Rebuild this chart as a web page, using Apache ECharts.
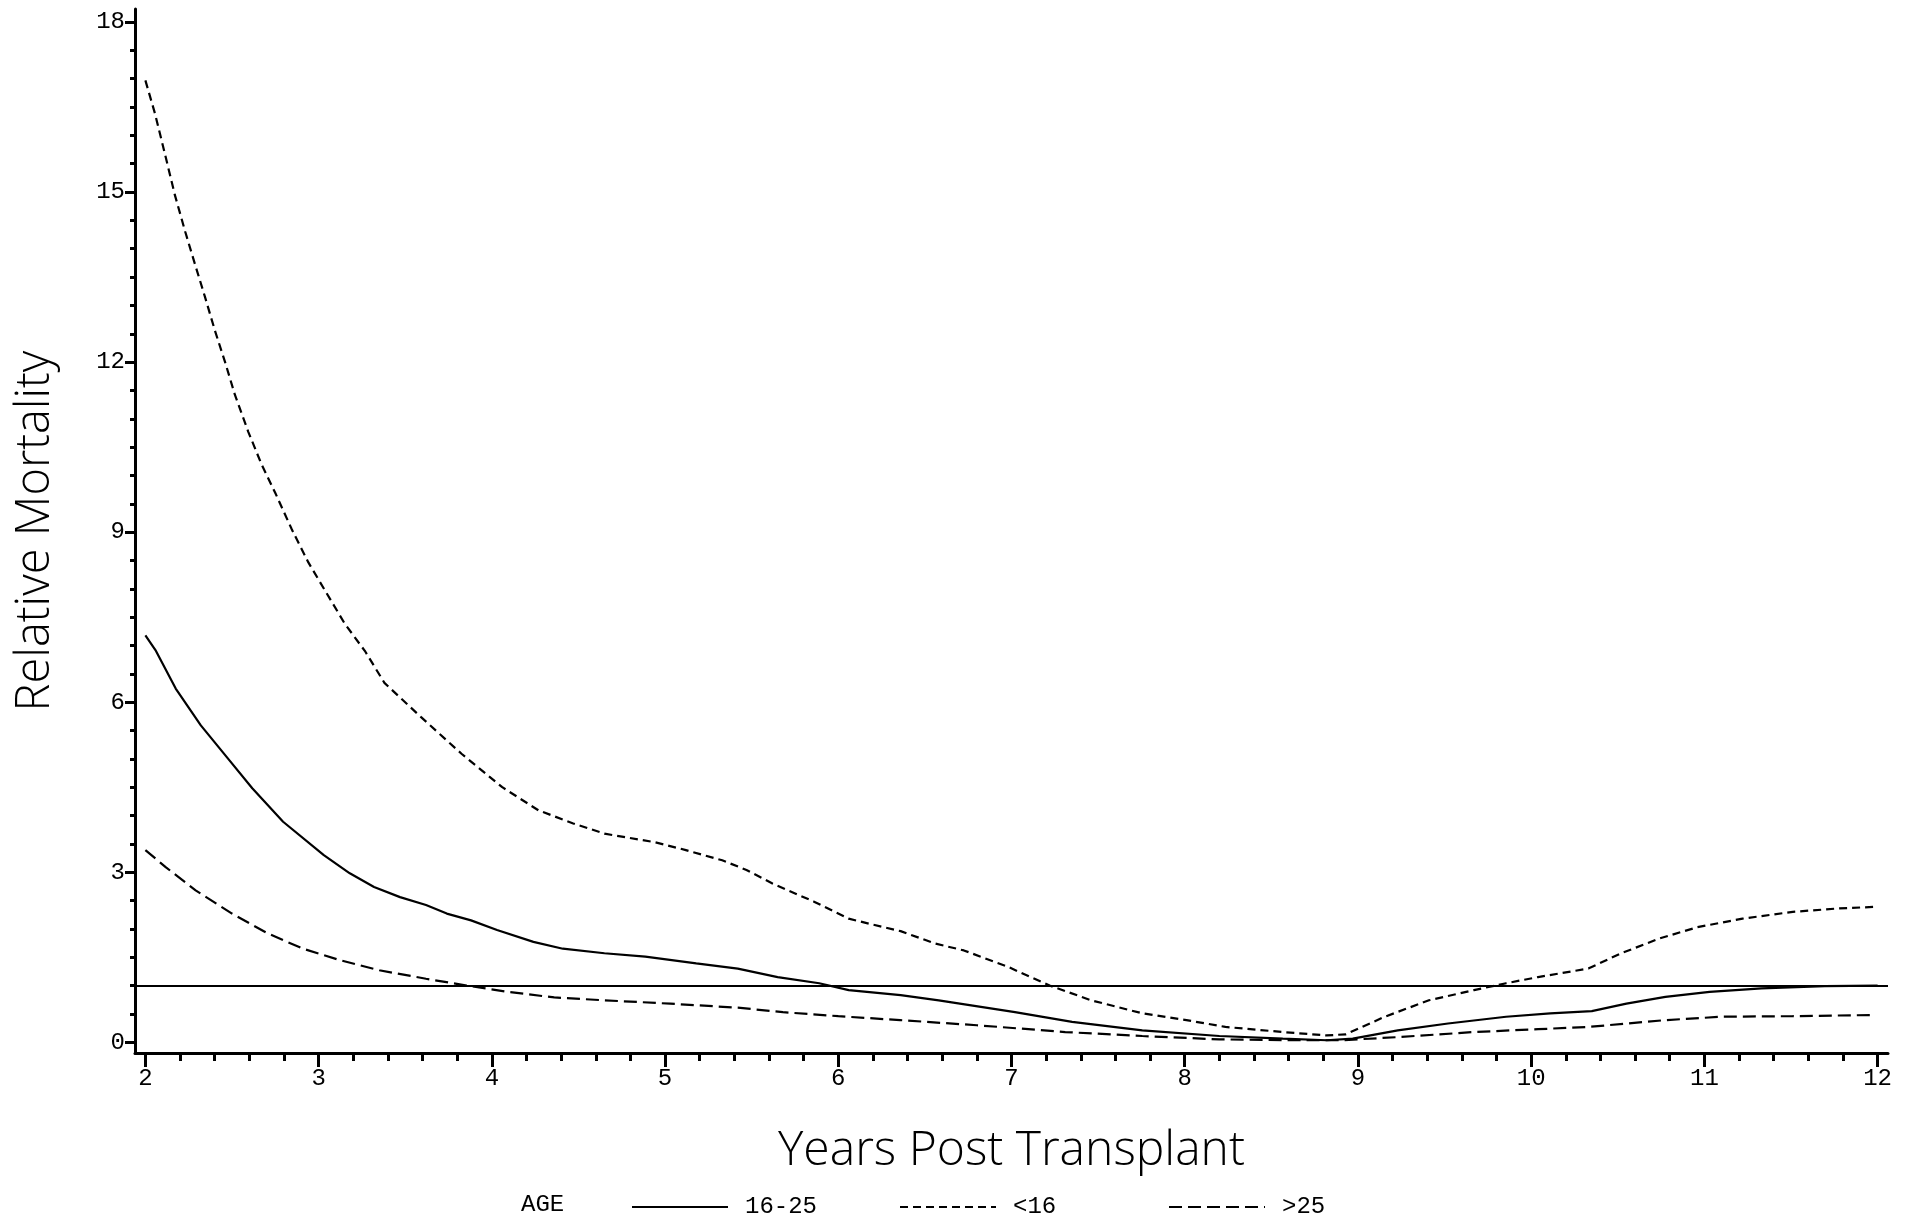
<!DOCTYPE html>
<html>
<head>
<meta charset="utf-8">
<script src="https://cdn.jsdelivr.net/npm/echarts@6/dist/echarts.min.js"></script>
<style>
  html, body { margin: 0; padding: 0; background: #fff; }
  #main { width: 1916px; height: 1222px; }
</style>
</head>
<body>
<div id="main"></div>
<script>
// values
let yearsMid = [2.0, 2.058, 2.175, 2.32, 2.47, 2.617, 2.795, 3.03, 3.18, 3.32, 3.47, 3.62, 3.74, 3.88, 4.03, 4.24, 4.41, 4.65, 4.886, 5.18, 5.42, 5.65, 5.89, 6.06, 6.36, 6.58, 7.02, 7.35, 7.755, 8.2, 8.566, 8.82, 8.97, 9.23, 9.52, 9.855, 10.11, 10.35, 10.55, 10.775, 11.03, 11.33, 11.695, 12.0];
let mortMid = [7.18, 6.92, 6.24, 5.59, 5.03, 4.48, 3.89, 3.30, 2.98, 2.74, 2.56, 2.42, 2.27, 2.15, 1.98, 1.77, 1.65, 1.57, 1.51, 1.39, 1.30, 1.15, 1.04, 0.92, 0.83, 0.74, 0.53, 0.36, 0.21, 0.11, 0.065, 0.035, 0.065, 0.21, 0.33, 0.45, 0.51, 0.55, 0.68, 0.80, 0.89, 0.95, 0.99, 1.0];

let yearsYoung = [2.0, 2.055, 2.113, 2.17, 2.23, 2.286, 2.344, 2.40, 2.46, 2.517, 2.594, 2.67, 2.75, 2.845, 2.94, 3.037, 3.15, 3.27, 3.38, 3.59, 3.825, 4.06, 4.27, 4.47, 4.65, 4.94, 5.12, 5.33, 5.47, 5.62, 5.86, 6.06, 6.18, 6.36, 6.56, 6.725, 6.98, 7.22, 7.46, 7.755, 8.01, 8.235, 8.566, 8.82, 8.93, 9.155, 9.41, 9.67, 9.855, 10.04, 10.33, 10.52, 10.74, 10.96, 11.22, 11.51, 11.77, 12.0];
let mortYoung = [16.97, 16.39, 15.67, 14.95, 14.30, 13.73, 13.15, 12.57, 12.0, 11.42, 10.77, 10.2, 9.69, 9.05, 8.47, 7.97, 7.39, 6.89, 6.34, 5.74, 5.09, 4.50, 4.09, 3.86, 3.68, 3.53, 3.39, 3.21, 3.04, 2.80, 2.48, 2.18, 2.09, 1.96, 1.74, 1.62, 1.33, 1.0, 0.74, 0.51, 0.39, 0.27, 0.18, 0.12, 0.14, 0.45, 0.74, 0.92, 1.04, 1.15, 1.30, 1.57, 1.83, 2.03, 2.18, 2.30, 2.36, 2.39];

let yearsOld = [2.0, 2.117, 2.29, 2.5, 2.706, 2.91, 3.12, 3.35, 3.62, 3.855, 4.09, 4.36, 4.65, 5.03, 5.42, 5.68, 6.0, 6.357, 6.8, 7.31, 7.755, 8.2, 8.64, 8.9, 9.23, 9.67, 10.04, 10.33, 10.775, 11.1, 11.51, 11.97];
let mortOld = [3.39, 3.09, 2.68, 2.27, 1.92, 1.65, 1.45, 1.27, 1.12, 1.0, 0.89, 0.79, 0.74, 0.68, 0.61, 0.53, 0.46, 0.39, 0.30, 0.18, 0.11, 0.05, 0.035, 0.035, 0.09, 0.18, 0.23, 0.27, 0.39, 0.45, 0.46, 0.48];

let xMajor = [2, 3, 4, 5, 6, 7, 8, 9, 10, 11, 12];
let yMajor = [0, 3, 6, 9, 12, 15, 18];
let refLevel = 1;

let xMinor = [];
for (let i = 10; i <= 60; i++) { if (i % 5 !== 0) xMinor.push(i / 5); }
let yMinor = [];
for (let i = 0; i <= 36; i++) { if (i % 6 !== 0) yMinor.push(i / 2); }

function pairs(xs, ys) {
  return xs.map(function (x, i) { return [x, ys[i]]; });
}

let mono = 'Liberation Mono';
let sans = 'Open Sans';

let myChart = echarts.init(document.getElementById('main'));

let axisLine = { show: true, onZero: false, lineStyle: { color: '#000', width: 3 } };
let hiddenLine = { show: false, onZero: false };
let legendText = { fontFamily: mono, fontSize: 24, color: '#000', padding: [0, 0, 0, 12] };

let option = {
  animation: false,
  backgroundColor: '#fff',
  title: {
    text: 'AGE',
    left: 516,
    top: 1188,
    textStyle: { fontFamily: mono, fontSize: 24, fontWeight: 'normal', color: '#000' }
  },
  legend: [
    { data: ['16-25'], left: 626, top: 1190, itemWidth: 96, itemHeight: 14, itemStyle: { opacity: 0 }, textStyle: legendText },
    { data: ['<16'], left: 894, top: 1190, itemWidth: 96, itemHeight: 14, itemStyle: { opacity: 0 }, textStyle: legendText },
    { data: ['>25'], left: 1163, top: 1190, itemWidth: 96, itemHeight: 14, itemStyle: { opacity: 0 }, textStyle: legendText }
  ],
  grid: { left: 135, right: 28, top: 9, bottom: 169 },
  xAxis: [
    {
      type: 'value', min: 1.94, max: 12.06,
      name: 'Years Post Transplant', nameLocation: 'middle', nameGap: 74,
      nameTextStyle: { fontFamily: sans, fontSize: 48, fontWeight: 300, color: '#000' },
      axisLine: axisLine,
      axisTick: { show: true, customValues: xMajor, length: 14, lineStyle: { color: '#000', width: 3 } },
      axisLabel: { customValues: xMajor, margin: 14, fontFamily: mono, fontSize: 24, color: '#000' },
      splitLine: { show: false }
    },
    {
      type: 'value', min: 1.94, max: 12.06, position: 'bottom',
      axisLine: hiddenLine,
      axisTick: { show: true, customValues: xMinor, length: 8, lineStyle: { color: '#000', width: 3 } },
      axisLabel: { show: false },
      splitLine: { show: false }
    }
  ],
  yAxis: [
    {
      type: 'value', min: -0.19, max: 18.23,
      name: 'Relative Mortality', nameLocation: 'middle', nameGap: 76,
      nameTextStyle: { fontFamily: sans, fontSize: 47, fontWeight: 300, color: '#000' },
      axisLine: axisLine,
      axisTick: { show: true, customValues: yMajor, length: 10, lineStyle: { color: '#000', width: 3 } },
      axisLabel: { customValues: yMajor, margin: 10, fontFamily: mono, fontSize: 24, color: '#000' },
      splitLine: { show: false }
    },
    {
      type: 'value', min: -0.19, max: 18.23, position: 'left',
      axisLine: hiddenLine,
      axisTick: { show: true, customValues: yMinor, length: 5, lineStyle: { color: '#000', width: 3 } },
      axisLabel: { show: false },
      splitLine: { show: false }
    }
  ],
  series: [
    {
      name: '16-25',
      type: 'line',
      symbol: 'none',
      data: pairs(yearsMid, mortMid),
      lineStyle: { color: '#000', width: 2.2, type: 'solid' },
      itemStyle: { color: '#000' },
      markLine: {
        silent: true,
        symbol: 'none',
        label: { show: false },
        lineStyle: { color: '#000', width: 2.2, type: 'solid' },
        data: [{ yAxis: refLevel }]
      }
    },
    {
      name: '<16',
      type: 'line',
      symbol: 'none',
      data: pairs(yearsYoung, mortYoung),
      lineStyle: { color: '#000', width: 2.2, type: [8, 5] },
      itemStyle: { color: '#000' }
    },
    {
      name: '>25',
      type: 'line',
      symbol: 'none',
      data: pairs(yearsOld, mortOld),
      lineStyle: { color: '#000', width: 2.2, type: [13, 6] },
      itemStyle: { color: '#000' }
    }
  ]
};

myChart.setOption(option);
</script>
</body>
</html>
